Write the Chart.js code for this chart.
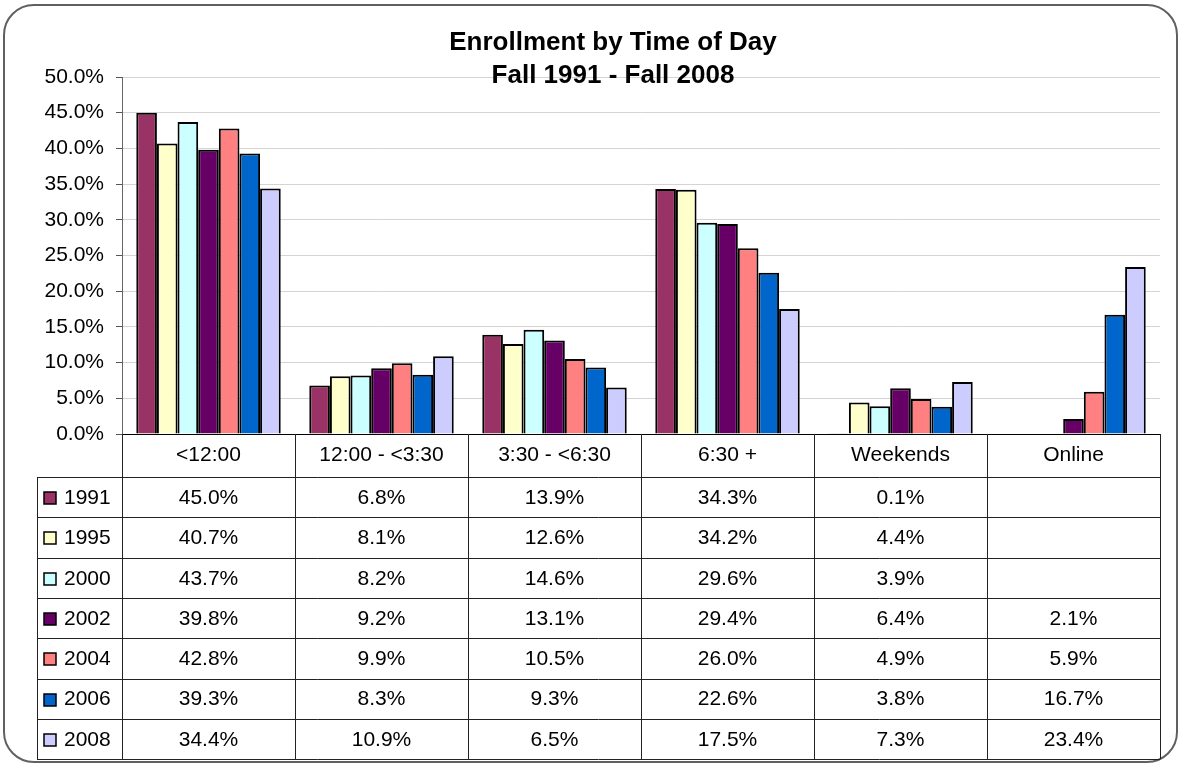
<!DOCTYPE html>
<html>
<head>
<meta charset="utf-8">
<script src="https://cdn.jsdelivr.net/npm/chart.js@4/dist/chart.umd.min.js"></script>
<style>
  html, body { margin: 0; padding: 0; background: #ffffff; }
  #wrap { position: relative; width: 1180px; height: 766px; }
  canvas { display: block; }
</style>
</head>
<body>
<div id="wrap"><canvas id="c" width="1180" height="766"></canvas></div>
<script>
// ---- Data ----
const categories = ['<12:00', '12:00 - <3:30', '3:30 - <6:30', '6:30 +', 'Weekends', 'Online'];
const years = ['1991', '1995', '2000', '2002', '2004', '2006', '2008'];
const v1991 = [45.0, 6.8, 13.9, 34.3, 0.1, null];
const v1995 = [40.7, 8.1, 12.6, 34.2, 4.4, null];
const v2000 = [43.7, 8.2, 14.6, 29.6, 3.9, null];
const v2002 = [39.8, 9.2, 13.1, 29.4, 6.4, 2.1];
const v2004 = [42.8, 9.9, 10.5, 26.0, 4.9, 5.9];
const v2006 = [39.3, 8.3, 9.3, 22.6, 3.8, 16.7];
const v2008 = [34.4, 10.9, 6.5, 17.5, 7.3, 23.4];
const seriesValues = [v1991, v1995, v2000, v2002, v2004, v2006, v2008];
const seriesColors = ['#993366', '#FFFFCC', '#CCFFFF', '#660066', '#FF8080', '#0066CC', '#CCCCFF'];
const titleLines = ['Enrollment by Time of Day', 'Fall 1991 - Fall 2008'];
const yMax = 50;
const yStep = 5;

const FONT = '"Liberation Sans", Arial, Helvetica, sans-serif';

const framePlugin = {
  id: 'frame',
  beforeDraw(chart) {
    const ctx = chart.ctx;
    ctx.save();
    ctx.fillStyle = '#ffffff';
    ctx.fillRect(0, 0, chart.width, chart.height);
    ctx.restore();
  },
  afterDraw(chart) {
    const ctx = chart.ctx;
    ctx.save();
    ctx.strokeStyle = '#606060';
    ctx.lineWidth = 2;
    const x0 = 4, y0 = 5, x1 = 1177, y1 = 762, r = 30;
    ctx.beginPath();
    ctx.moveTo(x0 + r, y0);
    ctx.lineTo(x1 - r, y0);
    ctx.arcTo(x1, y0, x1, y0 + r, r);
    ctx.lineTo(x1, y1 - r);
    ctx.arcTo(x1, y1, x1 - r, y1, r);
    ctx.lineTo(x0 + r, y1);
    ctx.arcTo(x0, y1, x0, y1 - r, r);
    ctx.lineTo(x0, y0 + r);
    ctx.arcTo(x0, y0, x0 + r, y0, r);
    ctx.closePath();
    ctx.stroke();

    // Title
    ctx.fillStyle = '#000000';
    ctx.font = 'bold 26px ' + FONT;
    ctx.textAlign = 'center';
    ctx.textBaseline = 'alphabetic';
    ctx.fillText(titleLines[0], 613, 50);
    ctx.fillText(titleLines[1], 613, 83);
    ctx.restore();
  }
};

const tablePlugin = {
  id: 'dataTable',
  afterDraw(chart) {
    const ctx = chart.ctx;
    const xs = chart.scales.x;
    const ca = chart.chartArea;
    const n = categories.length;
    const colW = (ca.right - ca.left) / n;
    const headerTop = ca.bottom;
    const headerH = 43;
    const rowH = 40.3;
    const legendLeft = 37;
    const rowsTop = headerTop + headerH;
    const tableBottom = rowsTop + rowH * years.length;

    ctx.save();
    ctx.strokeStyle = '#222222';
    ctx.lineWidth = 1;
    for (let i = 0; i <= n; i++) {
      const x = Math.round(ca.left + i * colW) + 0.5;
      ctx.beginPath();
      ctx.moveTo(x, headerTop);
      ctx.lineTo(x, tableBottom);
      ctx.stroke();
    }
    ctx.beginPath();
    ctx.moveTo(legendLeft + 0.5, rowsTop);
    ctx.lineTo(legendLeft + 0.5, tableBottom);
    ctx.stroke();
    for (let r = 0; r <= years.length; r++) {
      const y = Math.round(rowsTop + r * rowH) + 0.5;
      ctx.beginPath();
      ctx.moveTo(legendLeft, y);
      ctx.lineTo(ca.right, y);
      ctx.stroke();
    }

    ctx.fillStyle = '#000000';
    ctx.font = '21px ' + FONT;
    ctx.textAlign = 'center';
    ctx.textBaseline = 'middle';
    for (let i = 0; i < n; i++) {
      const cx = xs.getPixelForValue(i);
      ctx.fillText(categories[i], cx, headerTop + headerH / 2);
    }
    for (let r = 0; r < years.length; r++) {
      const cy = rowsTop + r * rowH + rowH / 2 + 1;
      ctx.fillStyle = seriesColors[r];
      ctx.fillRect(44, Math.round(cy - 6), 12, 12);
      ctx.strokeStyle = '#000000';
      ctx.lineWidth = 1.5;
      ctx.strokeRect(44, Math.round(cy - 6), 12, 12);
      ctx.fillStyle = '#000000';
      ctx.textAlign = 'left';
      ctx.fillText(years[r], 64, cy);
      ctx.textAlign = 'center';
      const vals = seriesValues[r];
      for (let i = 0; i < n; i++) {
        if (vals[i] === null || vals[i] === undefined) continue;
        ctx.fillText(vals[i].toFixed(1) + '%', xs.getPixelForValue(i), cy);
      }
    }
    ctx.restore();
  }
};

const datasets = years.map((y, i) => ({
  label: y,
  data: seriesValues[i],
  backgroundColor: seriesColors[i],
  borderColor: '#000000',
  borderWidth: 2,
  barPercentage: 1.0,
  categoryPercentage: 0.835
}));

new Chart(document.getElementById('c'), {
  type: 'bar',
  data: { labels: categories, datasets },
  options: {
    responsive: false,
    animation: false,
    devicePixelRatio: 1,
    layout: { padding: { top: 77, right: 20, left: 0, bottom: 0 } },
    plugins: {
      legend: { display: false },
      title: { display: false },
      tooltip: { enabled: false }
    },
    scales: {
      x: {
        ticks: { display: false },
        grid: { display: false, drawTicks: false },
        border: { display: true, color: '#000000', width: 1 },
        afterFit(scale) { scale.height = 766 - 434; }
      },
      y: {
        min: 0,
        max: yMax,
        ticks: {
          stepSize: yStep,
          color: '#000000',
          font: { family: FONT, size: 21 },
          padding: 12,
          callback: (v) => v.toFixed(1) + '%'
        },
        grid: {
          color: '#d4d4d4',
          lineWidth: 1,
          tickLength: 6,
          tickColor: '#555555'
        },
        border: { display: true, color: '#666666', width: 1 },
        afterFit(scale) { scale.width = 122; }
      }
    }
  },
  plugins: [framePlugin, tablePlugin]
});
</script>
</body>
</html>
